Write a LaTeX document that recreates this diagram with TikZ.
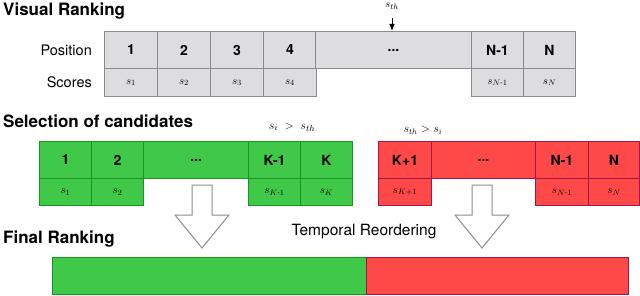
\documentclass[tikz,border=0pt]{standalone}
\usepackage{amsmath}
\usepackage{fontspec}
\setmainfont{TeX Gyre Heros}
\usetikzlibrary{positioning,arrows.meta}

\definecolor{rankfill}{RGB}{221,221,223}
\definecolor{rankline}{RGB}{140,140,140}
\definecolor{keepfill}{RGB}{64,200,72}
\definecolor{keepline}{RGB}{22,150,28}
\definecolor{dropfill}{RGB}{255,72,72}
\definecolor{dropline}{RGB}{160,20,80}

\begin{document}
\begin{tikzpicture}[x=1pt, y=-1pt,
  title/.style={anchor=west, inner sep=0pt, font=\bfseries\fontsize{17}{19}\selectfont},
  rowlabel/.style={inner sep=0pt, font=\fontsize{14.5}{16}\selectfont},
  poscell/.style={draw, line width=1pt, anchor=north west, inner sep=0pt, minimum height=37pt, font=\bfseries\fontsize{14}{16}\selectfont},
  scorecell/.style={draw, line width=1pt, anchor=north west, inner sep=0pt, minimum height=28pt, font=\fontsize{11}{13}\selectfont},
  gray/.style={draw=rankline, fill=rankfill},
  keep/.style={draw=keepline, fill=keepfill},
  drop/.style={draw=dropline, fill=dropfill},
  thr/.style={-{Latex[length=2.5mm,width=2mm]}, line width=1pt},
  hollow/.style={draw=rankline, fill=white, line width=1pt, line join=miter}
]
  \useasboundingbox (0,0) rectangle (640,295);

  % visual ranking
  \node[title] (vrtitle) at (3,11) {Visual Ranking};
  \foreach \i/\x in {1/104,2/157,3/210,4/263} {
    \node[poscell, gray, minimum width=53pt] (pos\i) at (\x,31) {\i};
    \node[scorecell, gray, minimum width=53pt] (sc\i) at (\x,68) {$s_{\i}$};
  }
  \node[poscell, gray, minimum width=156pt] (posdots) at (315,31) {...};
  \node[poscell, gray, minimum width=52pt] (posn1) at (471,31) {N-1};
  \node[poscell, gray, minimum width=52pt] (posn) at (523,31) {N};
  \node[scorecell, gray, minimum width=52pt] (scn1) at (471,68) {$s_{N\text{-}1}$};
  \node[scorecell, gray, minimum width=52pt] (scn) at (523,68) {$s_N$};
  \node[rowlabel, left=12pt of pos1] (poslbl) {Position};
  \node[rowlabel, left=12pt of sc1] (sclbl) {Scores};
  \node[font=\fontsize{11}{13}\selectfont, inner sep=0pt] (sth) at (392,6) {$s_{th}$};
  \draw[thr] (sth.south) ++(0,9) -- (sth.south |- posdots.north);

  % selection of candidates
  \node[title] (seltitle) at (3,121) {Selection of candidates};
  \node[poscell, keep, minimum width=52pt] (k1) at (39,141) {1};
  \node[poscell, keep, minimum width=52pt] (k2) at (91,141) {2};
  \node[poscell, keep, minimum width=105pt] (kdots) at (143,141) {...};
  \node[poscell, keep, minimum width=52pt] (kk1) at (248,141) {K-1};
  \node[poscell, keep, minimum width=52pt] (kk) at (300,141) {K};
  \node[scorecell, keep, minimum width=52pt, minimum height=27pt] (ks1) at (39,178) {$s_1$};
  \node[scorecell, keep, minimum width=52pt, minimum height=27pt] (ks2) at (91,178) {$s_2$};
  \node[scorecell, keep, minimum width=52pt, minimum height=27pt] (ksk1) at (248,178) {$s_{K\text{-}1}$};
  \node[scorecell, keep, minimum width=52pt, minimum height=27pt] (ksk) at (300,178) {$s_K$};
  \node[font=\fontsize{13}{15}\selectfont] (keeprule) at (292,127) {$s_i\;>\;s_{th}$};

  \node[poscell, drop, minimum width=53pt] (dk1) at (378,141) {K+1};
  \node[poscell, drop, minimum width=104pt] (ddots) at (431,141) {...};
  \node[poscell, drop, minimum width=53pt] (dn1) at (535,141) {N-1};
  \node[poscell, drop, minimum width=51pt] (dn) at (588,141) {N};
  \node[scorecell, drop, minimum width=53pt, minimum height=27pt] (dsk1) at (378,178) {$s_{K+1}$};
  \node[scorecell, drop, minimum width=53pt, minimum height=27pt] (dsn1) at (535,178) {$s_{N\text{-}1}$};
  \node[scorecell, drop, minimum width=51pt, minimum height=27pt] (dsn) at (588,178) {$s_N$};
  \node[font=\fontsize{12}{14}\selectfont] (droprule) at (423,130) {$s_{th} > s_i$};

  % hollow arrows down to the final ranking
  \coordinate (ga) at (202,185);
  \coordinate (ra) at (482,185);
  \foreach \a in {ga,ra}
    \draw[hollow] (\a) ++(-10,0) -- ++(20,0) -- ++(0,30) -- ++(17,0) -- ++(-27,33) -- ++(-27,-33) -- ++(17,0) -- cycle;

  % final ranking
  \node[title] (fintitle) at (3,239) {Final Ranking};
  \node[poscell, keep, minimum width=314pt] (fkeep) at (52,257) {};
  \node[poscell, drop, minimum width=262pt] (fdrop) at (366,257) {};
  \node[rowlabel, font=\fontsize{15.5}{17}\selectfont] (reorder) at (364,232) {Temporal Reordering};
\end{tikzpicture}
\end{document}
